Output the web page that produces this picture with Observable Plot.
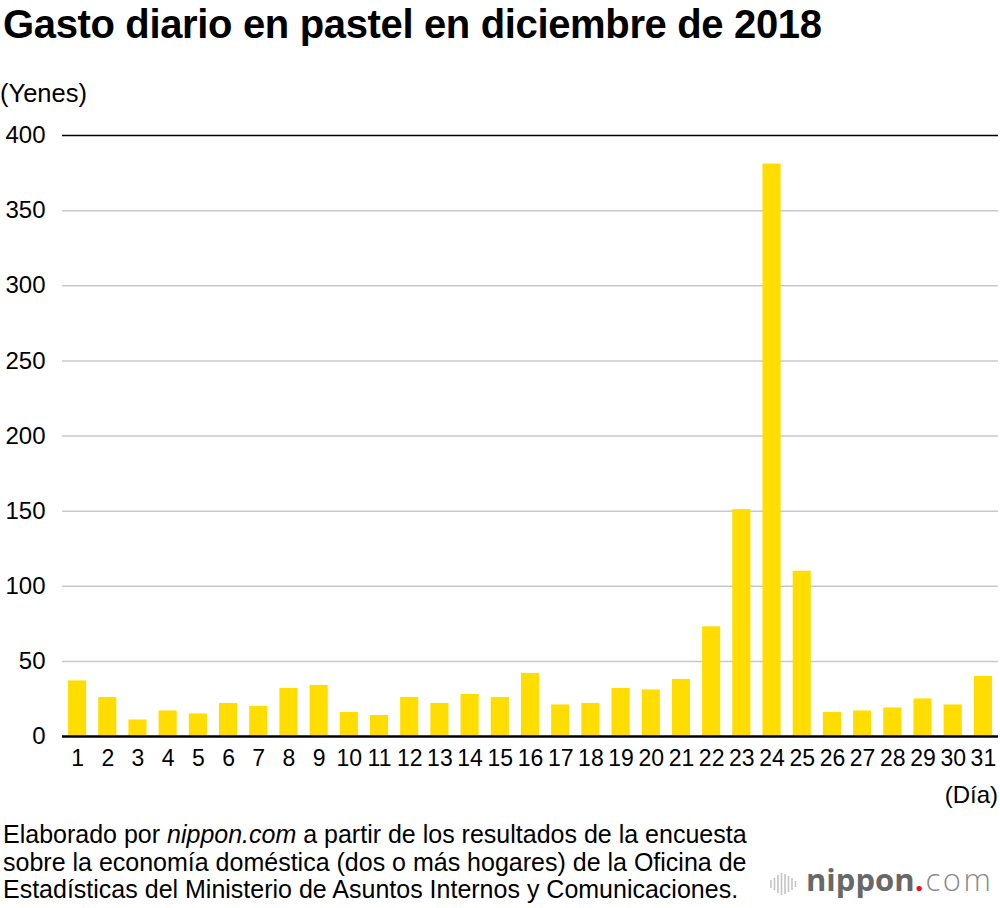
<!DOCTYPE html>
<html>
<head>
<meta charset="utf-8">
<script src="https://cdn.jsdelivr.net/npm/d3@7"></script>
<script src="https://cdn.jsdelivr.net/npm/@observablehq/plot@0.6"></script>
<style>
  html, body { margin: 0; padding: 0; background: #fff; }
  body { width: 1000px; height: 908px; position: relative; overflow: hidden; font-family: "Liberation Sans", Arial, sans-serif; color: #000; }
  #title { position: absolute; left: 3px; top: 4px; font-size: 40px; line-height: 1; font-weight: bold; letter-spacing: -0.35px; white-space: nowrap; }
  #unit { position: absolute; left: 0px; top: 81px; font-size: 25.5px; line-height: 1; }
  #chart { position: absolute; left: 0; top: 120px; }
  #xunit { position: absolute; right: 2px; top: 783px; font-size: 24px; line-height: 1; }
  #caption { position: absolute; left: 3px; top: 821px; font-size: 25px; line-height: 27.5px; white-space: nowrap; }
  #logoicon { position: absolute; left: 770px; top: 873px; }
  #logo { position: absolute; left: 806px; top: 864px; line-height: 1; white-space: nowrap; font-family: "Open Sans", sans-serif; font-size: 31px; }
  #logo .n { font-weight: bold; color: #686868; }
  #logo .d { font-weight: bold; color: #e8112d; }
  #logo .c { font-weight: 300; color: #8a8a8a; margin-left: 2px; letter-spacing: 2.5px; }
</style>
</head>
<body>
<div id="title">Gasto diario en pastel en diciembre de 2018</div>
<div id="unit">(Yenes)</div>
<div id="chart"></div>
<div id="xunit">(Día)</div>
<div id="caption">Elaborado por <i>nippon.com</i> a partir de los resultados de la encuesta<br>sobre la economía doméstica (dos o más hogares) de la Oficina de<br>Estadísticas del Ministerio de Asuntos Internos y Comunicaciones.</div>
<svg id="logoicon" width="27" height="22" viewBox="0 0 27 22">
  <g stroke="#c4c4c4" stroke-width="1.6">
    <line x1="1" y1="7" x2="1" y2="15"/>
    <line x1="4.5" y1="5" x2="4.5" y2="17"/>
    <line x1="8" y1="2" x2="8" y2="20"/>
    <line x1="11.5" y1="0" x2="11.5" y2="22"/>
    <line x1="15" y1="1" x2="15" y2="21"/>
    <line x1="18.5" y1="3" x2="18.5" y2="19"/>
    <line x1="22" y1="5" x2="22" y2="17"/>
    <line x1="25.5" y1="8" x2="25.5" y2="14"/>
  </g>
</svg>
<div id="logo"><span class="n">nippon</span><span class="d">.</span><span class="c">com</span></div>
<script>
const days = ["1","2","3","4","5","6","7","8","9","10","11","12","13","14","15","16","17","18","19","20","21","22","23","24","25","26","27","28","29","30","31"];
const spending = [37, 26, 11, 17, 15, 22, 20, 32, 34, 16, 14, 26, 22, 28, 26, 42, 21, 22, 32, 31, 38, 73, 151, 381, 110, 16, 17, 19, 25, 21, 40];
const yTicks = [0, 50, 100, 150, 200, 250, 300, 350, 400];
const grayGrid = [50, 100, 150, 200, 250, 300, 350];

const data = days.map((d, i) => ({day: d, value: spending[i]}));

const chart = Plot.plot({
  width: 1000,
  height: 660,
  marginTop: 15,
  marginBottom: 44,
  marginLeft: 62,
  marginRight: 2,
  style: {fontFamily: "'Liberation Sans', Arial, sans-serif", fontSize: "24px", color: "#000", background: "transparent"},
  x: {domain: days, paddingInner: 0.4, paddingOuter: 0.2, round: false, label: null},
  y: {domain: [0, 400], label: null},
  marks: [
    Plot.ruleY(grayGrid, {stroke: "#c8c8c8", strokeWidth: 1.5}),
    Plot.barY(data, {x: "day", y: "value", fill: "#FFDD00"}),
    Plot.ruleY([400], {stroke: "#000", strokeWidth: 1.5}),
    Plot.ruleY([0], {stroke: "#000", strokeWidth: 2.5}),
    Plot.axisY(yTicks, {tickSize: 0, tickPadding: 17, label: null, fontSize: 24}),
    Plot.axisX({tickSize: 0, tickPadding: 13, label: null, fontSize: 23})
  ]
});
document.getElementById("chart").appendChild(chart);
</script>
</body>
</html>
